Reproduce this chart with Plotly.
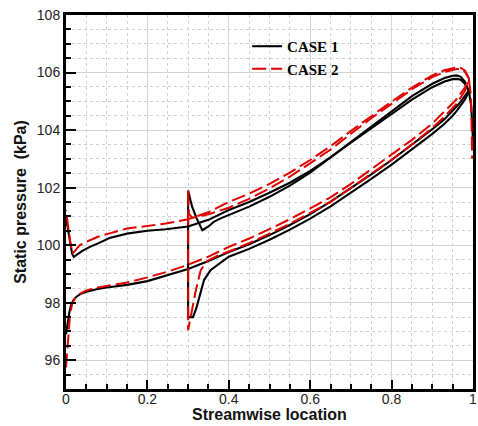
import plotly.graph_objects as go

# ---------------- data ----------------
# common streamwise stations for the rear part of the blade
XR = [0.4, 0.45, 0.5, 0.55, 0.6, 0.65, 0.7, 0.75, 0.8, 0.85, 0.9, 0.93, 0.95, 0.96, 0.97, 0.98, 0.99]

# CASE 1 (black)
C1_LOW_FRONT_X = [0, 0.004, 0.008, 0.012, 0.018, 0.025, 0.035, 0.05, 0.075, 0.1, 0.15, 0.2, 0.25, 0.3, 0.35]
C1_LOW_FRONT_Y = [96.9, 97.3, 97.65, 97.9, 98.08, 98.2, 98.3, 98.38, 98.47, 98.53, 98.62, 98.75, 98.95, 99.17, 99.45]
C1_UP_FRONT_X = [0, 0.005, 0.01, 0.015, 0.019, 0.025, 0.04, 0.06, 0.08, 0.107, 0.15, 0.2, 0.245, 0.3, 0.35]
C1_UP_FRONT_Y = [100.95, 100.6, 100.1, 99.7, 99.59, 99.65, 99.8, 99.95, 100.07, 100.25, 100.4, 100.5, 100.55, 100.65, 100.88]
C1_UP_A = [101.22, 101.50, 101.82, 102.17, 102.58, 103.05, 103.56, 104.06, 104.57, 105.06, 105.49, 105.69, 105.77, 105.78, 105.75, 105.61, 105.35]
C1_UP_B = [101.04, 101.34, 101.68, 102.07, 102.52, 103.05, 103.60, 104.14, 104.67, 105.18, 105.61, 105.81, 105.89, 105.90, 105.85, 105.69, 105.35]
C1_LOW_A = [99.76, 100.03, 100.35, 100.70, 101.08, 101.51, 101.98, 102.46, 102.96, 103.48, 104.03, 104.38, 104.66, 104.83, 104.99, 105.18, 105.38]
C1_LOW_B = [99.60, 99.87, 100.19, 100.54, 100.92, 101.35, 101.82, 102.30, 102.80, 103.32, 103.87, 104.22, 104.50, 104.67, 104.85, 105.06, 105.32]
C1_B_UP_FRONT_X = [0.3, 0.31, 0.321, 0.335, 0.35, 0.363, 0.38]
C1_B_UP_FRONT_Y = [101.89, 101.33, 100.93, 100.52, 100.65, 100.81, 100.93]
C1_B_LOW_FRONT_X = [0.3, 0.312, 0.32, 0.327, 0.333, 0.339, 0.355, 0.38]
C1_B_LOW_FRONT_Y = [97.5, 97.5, 97.8, 98.09, 98.45, 98.78, 99.13, 99.4]
C1_TAIL_X = [0.99, 0.996, 1.0]
C1_TAIL_Y = [105.35, 104.8, 103.6]

# CASE 2 (red dashed)
C2_LOW_FRONT_X = [0, 0.002, 0.005, 0.01, 0.015, 0.022, 0.035, 0.05, 0.075, 0.1, 0.15, 0.2, 0.25, 0.3, 0.35]
C2_LOW_FRONT_Y = [95.75, 96.2, 96.8, 97.6, 97.95, 98.15, 98.32, 98.43, 98.52, 98.58, 98.7, 98.88, 99.08, 99.32, 99.6]
C2_UP_FRONT_X = [0, 0.005, 0.01, 0.016, 0.022, 0.034, 0.06, 0.08, 0.107, 0.15, 0.2, 0.245, 0.3, 0.35]
C2_UP_FRONT_Y = [101.22, 100.7, 100.15, 99.71, 99.8, 100.0, 100.18, 100.3, 100.41, 100.58, 100.68, 100.75, 100.9, 101.15]
C2_UP_A = [101.5, 101.79, 102.13, 102.52, 102.96, 103.44, 103.97, 104.49, 104.99, 105.48, 105.9, 106.08, 106.15, 106.18, 106.16, 106.07, 105.8]
C2_UP_B = [101.3, 101.61, 101.97, 102.38, 102.84, 103.32, 103.87, 104.41, 104.91, 105.42, 105.84, 106.02, 106.09, 106.12, 106.12, 106.03, 105.78]
C2_LOW_A = [99.94, 100.23, 100.56, 100.90, 101.28, 101.66, 102.13, 102.63, 103.13, 103.66, 104.23, 104.63, 104.93, 105.08, 105.27, 105.48, 105.75]
C2_LOW_B = [99.78, 100.07, 100.40, 100.74, 101.12, 101.50, 101.97, 102.47, 102.97, 103.50, 104.07, 104.47, 104.77, 104.92, 105.13, 105.36, 105.7]
C2_B_UP_FRONT_X = [0.3, 0.302, 0.31, 0.33, 0.36, 0.38]
C2_B_UP_FRONT_Y = [101.9, 101.1, 100.95, 101.0, 101.12, 101.2]
C2_B_LOW_FRONT_X = [0.3, 0.31, 0.319, 0.331, 0.347, 0.37]
C2_B_LOW_FRONT_Y = [97.04, 97.74, 98.43, 99.13, 99.45, 99.62]
C2_TAIL_X = [0.99, 0.995, 0.998]
C2_TAIL_Y = [105.75, 105.2, 103.0]

CASE_NAMES = ["CASE 1", "CASE 2"]
X_TICKS = [0, 0.2, 0.4, 0.6, 0.8, 1]
X_TICK_TEXT = ["0", "0.2", "0.4", "0.6", "0.8", "1"]
Y_TICKS = [96, 98, 100, 102, 104, 106, 108]
X_TITLE = "Streamwise location"
Y_TITLE = "Static pressure  (kPa)"


def loop_a(lfx, lfy, ufx, ufy, low_r, up_r):
    x = lfx + XR + XR[::-1] + ufx[::-1]
    y = lfy + low_r + up_r[::-1] + ufy[::-1]
    return x, y


def loop_b(bufx, bufy, blfx, blfy, up_r, low_r):
    x = bufx + XR + XR[::-1] + blfx[::-1] + [bufx[0]]
    y = bufy + up_r + low_r[::-1] + blfy[::-1] + [bufy[0]]
    return x, y


fig = go.Figure()

styles = [dict(color="#000000", width=2.1),
          dict(color="#e00000", width=2.0, dash="14px,5px")]

cases = [
    (loop_a(C1_LOW_FRONT_X, C1_LOW_FRONT_Y, C1_UP_FRONT_X, C1_UP_FRONT_Y, C1_LOW_A, C1_UP_A),
     loop_b(C1_B_UP_FRONT_X, C1_B_UP_FRONT_Y, C1_B_LOW_FRONT_X, C1_B_LOW_FRONT_Y, C1_UP_B, C1_LOW_B),
     (C1_TAIL_X, C1_TAIL_Y)),
    (loop_a(C2_LOW_FRONT_X, C2_LOW_FRONT_Y, C2_UP_FRONT_X, C2_UP_FRONT_Y, C2_LOW_A, C2_UP_A),
     loop_b(C2_B_UP_FRONT_X, C2_B_UP_FRONT_Y, C2_B_LOW_FRONT_X, C2_B_LOW_FRONT_Y, C2_UP_B, C2_LOW_B),
     (C2_TAIL_X, C2_TAIL_Y)),
]

for i, (la, lb, tail) in enumerate(cases):
    for j, (xx, yy) in enumerate([la, lb, tail]):
        fig.add_trace(go.Scatter(
            x=xx, y=yy, mode="lines", line=styles[i],
            name=CASE_NAMES[i], legendgroup=CASE_NAMES[i],
            showlegend=(j == 0), hoverinfo="skip"))

grid_major = "#d4d4d4"
grid_minor = "#d0d0d0"

fig.update_layout(
    width=478, height=426,
    margin=dict(l=66, r=2, t=15, b=37),
    paper_bgcolor="white", plot_bgcolor="white",
    font=dict(family="Liberation Sans, Arial, sans-serif", size=14, color="#222222"),
    showlegend=True,
    legend=dict(x=0.445, y=0.96, xanchor="left", yanchor="top",
                bgcolor="rgba(0,0,0,0)", tracegroupgap=0,
                font=dict(family="Liberation Serif, Times New Roman, serif", size=15,
                          color="#000000", weight="bold")),
    xaxis=dict(range=[0, 1], tickvals=X_TICKS, ticktext=X_TICK_TEXT,
               ticks="inside", ticklen=9, tickwidth=2, tickcolor="#000",
               ticklabelstandoff=-5,
               showline=True, linecolor="#000", linewidth=3, mirror=True,
               showgrid=True, gridcolor=grid_major, gridwidth=1, zeroline=False,
               minor=dict(dtick=0.05, ticks="inside", ticklen=5, tickwidth=1.5, tickcolor="#000",
                          showgrid=True, gridcolor=grid_minor, griddash="dot", gridwidth=1)),
    yaxis=dict(range=[95, 108], tickvals=Y_TICKS,
               ticks="inside", ticklen=10, tickwidth=2, tickcolor="#000",
               showline=True, linecolor="#000", linewidth=3, mirror=True,
               showgrid=True, gridcolor=grid_major, gridwidth=1, zeroline=False,
               minor=dict(dtick=0.5, ticks="inside", ticklen=5, tickwidth=1.5, tickcolor="#000",
                          showgrid=True, gridcolor=grid_minor, griddash="dot", gridwidth=1),
               title=dict(text="<b>" + Y_TITLE + "</b>", font=dict(size=16, color="#111"), standoff=7)),
    annotations=[dict(text="<b>" + X_TITLE + "</b>", xref="paper", yref="paper",
                      x=0.5, y=-0.069, xanchor="center", yanchor="middle", showarrow=False,
                      font=dict(size=16, color="#111"))],
)

fig.write_html("out.html")
